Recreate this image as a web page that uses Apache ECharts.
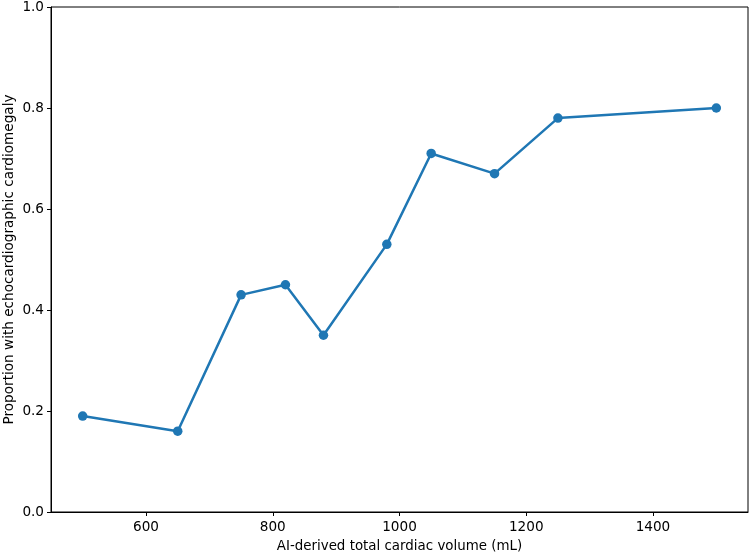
<!DOCTYPE html>
<html>
<head>
<meta charset="utf-8">
<script src="https://cdn.jsdelivr.net/npm/echarts@6/dist/echarts.min.js"></script>
<style>html,body{margin:0;padding:0;background:#fff}#c{width:750px;height:555px}</style>
</head>
<body>
<div id="c"></div>
<script>
const volumes = [500, 650, 750, 820, 880, 980, 1050, 1150, 1250, 1500];
const proportions = [0.19, 0.16, 0.43, 0.45, 0.35, 0.53, 0.71, 0.67, 0.78, 0.80];
const xTicks = [600, 800, 1000, 1200, 1400];
const yTicks = [0, 0.2, 0.4, 0.6, 0.8, 1.0];
const xTitle = 'AI-derived total cardiac volume (mL)';
const yTitle = 'Proportion with echocardiographic cardiomegaly';

const font = 'DejaVu Sans';
const chart = echarts.init(document.getElementById('c'), null, {renderer: 'canvas'});
chart.setOption({
  animation: false,
  grid: {left: 51, right: 2, top: 7, bottom: 43, containLabel: false, outerBoundsMode: 'none',
         show: true, borderColor: '#000', borderWidth: 1, backgroundColor: 'transparent'},
  xAxis: {
    type: 'value', min: 450, max: 1550,
    name: xTitle, nameLocation: 'middle', nameGap: 28, nameMoveOverlap: false,
    nameTextStyle: {fontFamily: font, fontSize: 13.4, color: '#000'},
    axisLine: {show: true, lineStyle: {color: '#000', width: 1}},
    axisTick: {show: true, length: 4, lineStyle: {color: '#000'}, customValues: xTicks},
    axisLabel: {fontFamily: font, fontSize: 13.6, color: '#000', margin: 8, customValues: xTicks, formatter: v => String(v)},
    splitLine: {show: false}
  },
  yAxis: {
    type: 'value', min: 0, max: 1,
    name: yTitle, nameLocation: 'middle', nameGap: 35, nameMoveOverlap: false,
    nameTextStyle: {fontFamily: font, fontSize: 13.6, color: '#000'},
    axisLine: {show: true, lineStyle: {color: '#000', width: 1}},
    axisTick: {show: true, length: 4, lineStyle: {color: '#000'}, customValues: yTicks},
    axisLabel: {fontFamily: font, fontSize: 13.6, color: '#000', margin: 7, customValues: yTicks, formatter: v => v.toFixed(1)},
    splitLine: {show: false}
  },
  series: [{
    type: 'line',
    data: volumes.map((v, i) => [v, proportions[i]]),
    symbol: 'circle', symbolSize: 9.5,
    lineStyle: {color: '#1f77b4', width: 2.5},
    itemStyle: {color: '#1f77b4'}
  }]
});
</script>
</body>
</html>
